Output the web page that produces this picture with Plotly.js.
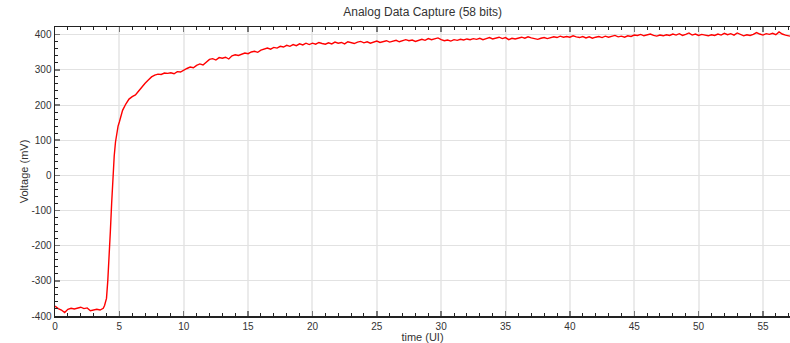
<!DOCTYPE html>
<html>
<head>
<meta charset="utf-8">
<script src="https://cdn.plot.ly/plotly-3.0.1.min.js"></script>
<style>html,body{margin:0;padding:0;background:#fff;}#chart{width:790px;height:343px;}</style>
</head>
<body>
<div id="chart"></div>
<script>
// Sample times (UI)
const timeUI = [
  0,0.25,0.5,0.75, 1,1.25,1.5,1.75, 2,2.25,2.5,2.75, 3,3.25,3.5,3.75,3.85,
  4,4.1,4.2,4.3,4.4,4.5,4.6,4.7,4.8,4.9,
  5,5.25,5.5,5.75, 6,6.25,6.5,6.75, 7,7.25,7.5,7.75, 8,8.25,8.5,8.75, 9,9.25,9.5,9.75,
  10,10.25,10.5,10.75, 11,11.25,11.5,11.75, 12,12.25,12.5,12.75, 13,13.25,13.5,13.75, 14,14.25,14.5,14.75,
  15,15.25,15.5,15.75, 16,16.25,16.5,16.75, 17,17.25,17.5,17.75, 18,18.25,18.5,18.75, 19,19.25,19.5,19.75,
  20,20.25,20.5,20.75, 21,21.25,21.5,21.75, 22,22.25,22.5,22.75, 23,23.25,23.5,23.75, 24,24.25,24.5,24.75,
  25,25.25,25.5,25.75, 26,26.25,26.5,26.75, 27,27.25,27.5,27.75, 28,28.25,28.5,28.75, 29,29.25,29.5,29.75,
  30,30.25,30.5,30.75, 31,31.25,31.5,31.75, 32,32.25,32.5,32.75, 33,33.25,33.5,33.75, 34,34.25,34.5,34.75,
  35,35.25,35.5,35.75, 36,36.25,36.5,36.75, 37,37.25,37.5,37.75, 38,38.25,38.5,38.75, 39,39.25,39.5,39.75,
  40,40.25,40.5,40.75, 41,41.25,41.5,41.75, 42,42.25,42.5,42.75, 43,43.25,43.5,43.75, 44,44.25,44.5,44.75,
  45,45.25,45.5,45.75, 46,46.25,46.5,46.75, 47,47.25,47.5,47.75, 48,48.25,48.5,48.75, 49,49.25,49.5,49.75,
  50,50.25,50.5,50.75, 51,51.25,51.5,51.75, 52,52.25,52.5,52.75, 53,53.25,53.5,53.75, 54,54.25,54.5,54.75,
  55,55.25,55.5,55.75, 56,56.25,56.5,56.75, 57,57.1
];
// Voltage (mV)
const voltageMV = [
  -372,-379,-383,-390, -381,-378,-380,-377, -375,-379,-377,-385, -384,-381,-383,-378,-370,
  -350,-300,-240,-160,-80,0,55,95,120,140,
  152,185,203,217, 224,229,240,252, 262,271,280,285, 288,287,291,290, 292,289,295,294,
  300,304,308,306, 313,317,314,322, 330,332,328,335, 333,336,331,340, 343,341,345,348,
  346,351,353,350, 356,358,362,359, 364,362,367,365, 370,367,372,369, 374,371,376,372,
  376,373,378,375, 373,377,374,379, 376,378,374,380, 377,375,379,381, 377,380,376,379,
  382,378,380,383, 379,381,384,380, 382,386,383,385, 381,384,387,384, 389,386,388,391,
  386,383,385,382, 386,384,387,385, 388,386,389,387, 390,386,389,392, 388,391,393,389,
  392,386,390,388, 391,393,390,394, 391,389,387,390, 392,389,391,394, 392,396,393,395,
  393,397,394,392, 395,391,394,390, 393,395,392,396, 393,395,398,394, 396,393,397,395,
  399,398,401,397, 399,402,398,396, 399,397,400,398, 402,399,403,398, 401,405,399,402,
  398,401,399,397, 400,398,402,399, 404,400,403,399, 405,401,397,400, 398,401,406,402,
  399,403,401,404, 400,408,402,399, 397,396
];
const yTickVals = [-400,-300,-200,-100,0,100,200,300,400];
const yTickText = ["-400","-300","-200","-100","0","100","200","300","400"];
const chartTitle = "Analog Data Capture (58 bits)";
const xTitle = "time (UI)";
const yTitle = "Voltage (mV)";

const font = {family: "Liberation Sans, Arial, sans-serif", size: 11, color: "#333"};

Plotly.newPlot("chart", [{
  x: timeUI, y: voltageMV, type: "scatter", mode: "lines",
  line: {color: "#ff0000", width: 1.4}, hoverinfo: "skip"
}], {
  width: 790, height: 343,
  margin: {l: 55, r: 0, t: 27, b: 27, pad: 0},
  paper_bgcolor: "#fff", plot_bgcolor: "#fff",
  showlegend: false,
  font: font,
  title: {text: chartTitle, x: 0.535, xanchor: "center", y: 0.965, yanchor: "middle",
          font: {family: "Liberation Sans, Arial, sans-serif", size: 12, color: "#333"}},
  xaxis: {
    range: [0, 57.1], dtick: 5, tick0: 0,
    showline: true, linecolor: "#222", linewidth: 1.5, mirror: "ticks",
    ticks: "inside", ticklen: 5, tickcolor: "#777", tickwidth: 1.5,
    showgrid: true, gridcolor: "#ebebeb", gridwidth: 2,
    zeroline: false,
    minor: {dtick: 1, ticks: "inside", ticklen: 3, tickcolor: "#222", tickwidth: 1, showgrid: false},
    tickfont: {size: 10, color: "#333"},
    title: {text: xTitle, standoff: 4, font: {size: 11, color: "#333"}}
  },
  yaxis: {
    range: [-400, 422], tickmode: "array", tickvals: yTickVals, ticktext: yTickText,
    showline: true, linecolor: "#222", linewidth: 1.5, mirror: false,
    ticks: "inside", ticklen: 5, tickcolor: "#777", tickwidth: 1.5,
    showgrid: true, gridcolor: "#e2e2e2", gridwidth: 1,
    zeroline: false,
    minor: {dtick: 20, tick0: 0, ticks: "inside", ticklen: 3, tickcolor: "#222", tickwidth: 1, showgrid: false},
    tickfont: {size: 10, color: "#333"},
    title: {text: yTitle, standoff: 0, font: {size: 11, color: "#333"}}
  }
}, {displayModeBar: false, staticPlot: true});
</script>
</body>
</html>
